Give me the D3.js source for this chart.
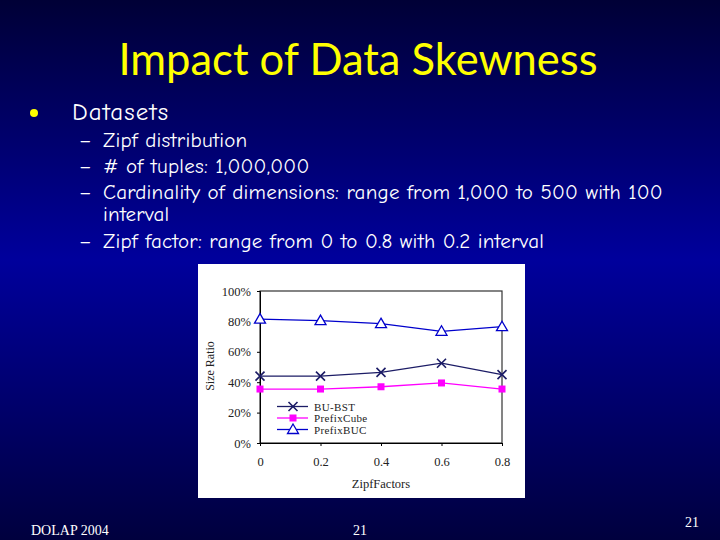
<!DOCTYPE html>
<html><head><meta charset="utf-8">
<script src="https://cdn.jsdelivr.net/npm/d3@7"></script>
<style>html,body{margin:0;padding:0;background:#000040;}svg{display:block;}</style>
</head><body>
<script>
const zipfFactors = [0, 0.2, 0.4, 0.6, 0.8];
const buBst = [44, 44, 46.5, 52.5, 45];
const prefixCube = [35.5, 35.5, 37, 39.5, 35.5];
const prefixBuc = [81.5, 80.5, 78.5, 73.5, 76.5];
const yTicks = [0, 20, 40, 60, 80, 100];
const seriesNames = ["BU-BST", "PrefixCube", "PrefixBUC"];
const subBullets = ["Zipf distribution", "# of tuples: 1,000,000",
  "Cardinality of dimensions: range from 1,000 to 500 with 100", "interval",
  "Zipf factor: range from 0 to 0.8 with 0.2 interval"];

const W = 720, H = 540;
const svg = d3.select("body").append("svg").attr("width", W).attr("height", H);
const defs = svg.append("defs");
const grad = defs.append("linearGradient").attr("id", "bg").attr("x1", 0).attr("y1", 0).attr("x2", 0).attr("y2", 1);
grad.append("stop").attr("offset", "0%").attr("stop-color", "#000036");
grad.append("stop").attr("offset", "48%").attr("stop-color", "#00009c");
grad.append("stop").attr("offset", "100%").attr("stop-color", "#00003e");
svg.append("rect").attr("width", W).attr("height", H).attr("fill", "url(#bg)");

// Title
svg.append("text").attr("x", 358).attr("y", 75).attr("text-anchor", "middle")
  .attr("font-family", "Lato, 'Open Sans', sans-serif").attr("font-size", 43.5)
  .attr("fill", "#ffff00").text("Impact of Data Skewness");

// Bullets
const bf = "'Comic Neue', 'Open Sans', Lato, sans-serif";
svg.append("circle").attr("cx", 34).attr("cy", 113).attr("r", 4).attr("fill", "#ffff00");
svg.append("text").attr("x", 72).attr("y", 120).attr("font-family", bf).attr("font-size", 25)
  .attr("letter-spacing", 1.1).attr("fill", "#ffffff").text("Datasets");
const subY = [147, 173, 199, 221, 248];
subBullets.forEach((t, i) => {
  if (i !== 3) svg.append("text").attr("x", 79).attr("y", subY[i]).attr("font-family", bf)
    .attr("font-size", 21).attr("fill", "#fff").text("–");
  svg.append("text").attr("x", 103).attr("y", subY[i]).attr("font-family", bf)
    .attr("font-size", 21).attr("letter-spacing", 0.25).attr("fill", "#fff").text(t);
});

// Chart panel
svg.append("rect").attr("x", 198).attr("y", 264).attr("width", 327).attr("height", 234).attr("fill", "#ffffff");
const x = d3.scaleLinear().domain([0, 0.8]).range([260, 502]);
const y = d3.scaleLinear().domain([0, 100]).range([443, 291]);
const serif = "'Liberation Serif', 'Times New Roman', serif";

svg.append("rect").attr("x", 260).attr("y", 291).attr("width", 242).attr("height", 152)
  .attr("fill", "none").attr("stroke", "#333").attr("stroke-width", 1.2);

const yAxis = svg.append("g").attr("transform", "translate(260,0)")
  .call(d3.axisLeft(y).tickValues(yTicks).tickSize(3).tickFormat(d => d + "%"));
yAxis.select(".domain").attr("stroke", "#000");
yAxis.selectAll("text").attr("font-family", serif).attr("font-size", 12.5).attr("fill", "#222").attr("x", -9);
yAxis.selectAll("line").attr("stroke", "#000");

const xAxis = svg.append("g").attr("transform", "translate(0,443)")
  .call(d3.axisBottom(x).tickValues(zipfFactors).tickSize(3).tickFormat(d => d === 0 ? "0" : d3.format(".1f")(d)));
xAxis.select(".domain").attr("stroke", "#000");
xAxis.selectAll("text").attr("font-family", serif).attr("font-size", 12.5).attr("fill", "#222").attr("y", 14);
xAxis.selectAll("line").attr("stroke", "#000");

svg.append("text").attr("x", 381).attr("y", 488).attr("text-anchor", "middle").attr("font-family", serif)
  .attr("font-size", 12.5).attr("fill", "#222").text("ZipfFactors");
svg.append("text").attr("transform", "translate(214,366) rotate(-90)").attr("text-anchor", "middle")
  .attr("font-family", serif).attr("font-size", 12).attr("fill", "#222").text("Size Ratio");

const colors = ["#1c1c66", "#ff00ff", "#0000cc"];
const data = [buBst, prefixCube, prefixBuc];
const line = d3.line().x((d, i) => x(zipfFactors[i])).y(d => y(d));

function marker(g, k, cx, cy) {
  if (k === 0) {
    g.append("path").attr("d", `M${cx-4.5},${cy-4.5}L${cx+4.5},${cy+4.5}M${cx-4.5},${cy+4.5}L${cx+4.5},${cy-4.5}`)
      .attr("stroke", colors[0]).attr("stroke-width", 1.6).attr("fill", "none");
  } else if (k === 1) {
    g.append("rect").attr("x", cx - 3.5).attr("y", cy - 3.5).attr("width", 7).attr("height", 7).attr("fill", colors[1]);
  } else {
    g.append("path").attr("d", `M${cx},${cy-5.5}L${cx+5.5},${cy+4}L${cx-5.5},${cy+4}Z`)
      .attr("stroke", colors[2]).attr("stroke-width", 1.3).attr("fill", "#ffffff");
  }
}

data.forEach((vals, k) => {
  svg.append("path").datum(vals).attr("d", line).attr("fill", "none").attr("stroke", colors[k]).attr("stroke-width", 1.3);
  const g = svg.append("g");
  vals.forEach((v, i) => marker(g, k, x(zipfFactors[i]), y(v)));
});

// Legend
const legY = [406.5, 418, 429.5];
seriesNames.forEach((n, k) => {
  svg.append("line").attr("x1", 277).attr("x2", 308).attr("y1", legY[k]).attr("y2", legY[k])
    .attr("stroke", colors[k]).attr("stroke-width", 1.3);
  marker(svg.append("g"), k, 293, legY[k]);
  svg.append("text").attr("x", 314).attr("y", legY[k] + 4).attr("font-family", serif).attr("font-size", 11)
    .attr("letter-spacing", 0.35).attr("fill", "#222").text(n);
});

// Footer
svg.append("text").attr("x", 31).attr("y", 535).attr("font-family", serif).attr("font-size", 14)
  .attr("fill", "#fff").text("DOLAP 2004");
svg.append("text").attr("x", 360).attr("y", 535).attr("text-anchor", "middle").attr("font-family", serif).attr("font-size", 14)
  .attr("fill", "#fff").text("21");
svg.append("text").attr("x", 692).attr("y", 527).attr("text-anchor", "middle").attr("font-family", serif).attr("font-size", 14)
  .attr("fill", "#fff").text("21");
</script>
</body></html>
